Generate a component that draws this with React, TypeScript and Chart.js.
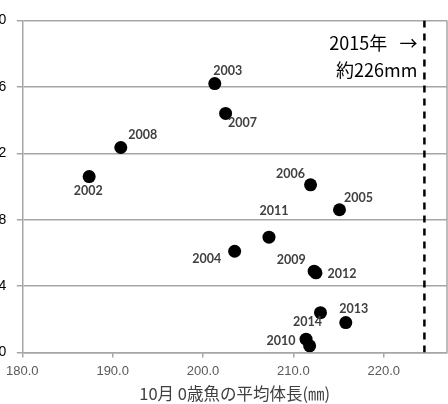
import React, { useEffect, useRef } from "react";
import { Chart, registerables } from "chart.js";

Chart.register(...registerables);

const years = ["2002", "2003", "2004", "2005", "2006", "2007", "2008", "2009", "2010", "2011", "2012", "2013", "2014", ""];
const bodyLength = [187.4, 201.3, 203.5, 215.1, 211.9, 202.5, 190.9, 212.3, 211.4, 207.3, 212.5, 215.8, 213.0, 211.8];
const yValues = [10.6, 16.2, 6.1, 8.6, 10.1, 14.4, 12.35, 4.9, 0.8, 6.95, 4.8, 1.8, 2.4, 0.4];
const xTickValues = [180, 190, 200, 210, 220];
const yTickValues = [0, 4, 8, 12, 16, 20];
const refLength = 224.5;
const refLines = ["2015年   →", "約226mm"];
const xTitle = "10月 0歳魚の平均体長(㎜)";

// label offsets in px (style only)
const labelOffsets: [number, number][] = [
  [-1, 14], [13, -13], [-28, 8], [19, -12], [-20, -11], [17, 10], [22, -13],
  [-23, -11], [-25, 2], [5, -26], [26, 1], [8, -14], [-13, 9], [0, 0],
];

const SHIFT = 40;
const CW = 540;
const CH = 404;

export default function App() {
  const ref = useRef<HTMLCanvasElement>(null);
  useEffect(() => {
    const canvas = ref.current!;
    const labelPlugin = {
      id: "labels",
      afterDatasetsDraw(chart: any) {
        const ctx = chart.ctx;
        const { top, bottom, right } = chart.chartArea;
        ctx.save();
        ctx.strokeStyle = "#a6a6a6";
        ctx.lineWidth = 1.5;
        ctx.beginPath();
        ctx.moveTo(right, top);
        ctx.lineTo(right, bottom);
        ctx.stroke();
        const meta = chart.getDatasetMeta(0);
        ctx.font = "bold 12.5px Lato, 'Liberation Sans', sans-serif";
        ctx.fillStyle = "#404040";
        ctx.textAlign = "center";
        ctx.textBaseline = "middle";
        meta.data.forEach((pt: any, i: number) => {
          if (!years[i]) return;
          const [dx, dy] = labelOffsets[i];
          ctx.fillText(years[i], pt.x + dx, pt.y + dy);
        });
        const xs = chart.scales.x;
        const rx = xs.getPixelForValue(refLength) - 7;
        ctx.font = "18px 'Noto Sans CJK JP', sans-serif";
        ctx.fillStyle = "#000";
        ctx.textAlign = "right";
        ctx.fillText(refLines[0], rx, top + 23);
        ctx.fillText(refLines[1], rx, top + 50);
        ctx.restore();
      },
    };
    const chart = new Chart(canvas, {
      type: "scatter",
      data: {
        datasets: [
          {
            data: bodyLength.map((x, i) => ({ x, y: yValues[i] })),
            backgroundColor: "#000",
            borderColor: "#000",
            pointRadius: 6.5,
            pointHoverRadius: 6.5,
            borderWidth: 0,
          },
          {
            type: "line",
            data: [{ x: refLength, y: 0 }, { x: refLength, y: 20 }],
            borderColor: "#000",
            borderWidth: 2.5,
            borderDash: [7, 6],
            pointRadius: 0,
            showLine: true,
          } as any,
        ],
      },
      plugins: [labelPlugin],
      options: {
        animation: false,
        responsive: false,
        events: [],
        layout: { padding: { left: 0, right: 53, top: 20.5, bottom: 0 } },
        plugins: { legend: { display: false }, tooltip: { enabled: false } },
        scales: {
          x: {
            type: "linear",
            min: 180,
            max: 227,
            afterBuildTicks: (s: any) => {
              s.ticks = xTickValues.map((v) => ({ value: v }));
            },
            afterFit: (s: any) => {
              s.height = 51.5;
            },
            grid: { drawOnChartArea: false, drawTicks: true, tickLength: 5, color: "#a6a6a6", lineWidth: 1.5 },
            border: { color: "#a6a6a6", width: 1.5 },
            ticks: {
              padding: 6,
              color: "#595959",
              font: { family: "'Liberation Sans', sans-serif", size: 13 },
              callback: (v: any) => Number(v).toFixed(1),
            },
            title: {
              display: true,
              text: xTitle,
              color: "#404040",
              font: { family: "'Noto Sans CJK JP', sans-serif", size: 16.5 },
              padding: { top: 0, bottom: 0 },
            },
          },
          y: {
            type: "linear",
            min: 0,
            max: 20,
            afterBuildTicks: (s: any) => {
              s.ticks = yTickValues.map((v) => ({ value: v }));
            },
            afterFit: (s: any) => {
              s.width = 62.3;
            },
            grid: { color: "#a6a6a6", lineWidth: 1.5, tickLength: 5.5, drawTicks: true },
            border: { color: "#a6a6a6", width: 1.5 },
            ticks: {
              padding: 10.5,
              color: "#000",
              font: { family: "'Liberation Sans', sans-serif", size: 14 },
              callback: (v: any) => String(v),
            },
          },
        },
      },
    } as any);
    return () => chart.destroy();
  }, []);
  return (
    <div style={{ position: "fixed", left: 0, top: 0, width: 448, height: 404, overflow: "hidden", background: "#fff" }}>
      <canvas
        ref={ref}
        width={CW}
        height={CH}
        style={{ position: "absolute", left: -SHIFT, top: 0, width: CW, height: CH }}
      />
    </div>
  );
}
